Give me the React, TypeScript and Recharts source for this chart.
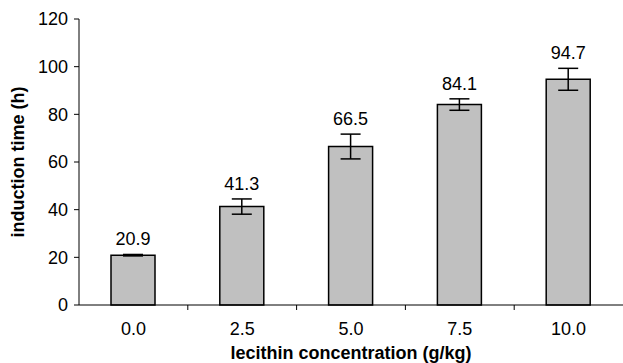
import { Bar, BarChart, ErrorBar, LabelList, XAxis, YAxis } from "recharts";

const concentrations = ["0.0", "2.5", "5.0", "7.5", "10.0"];
const inductionTime = [20.9, 41.3, 66.5, 84.1, 94.7];
const errors = [0.3, 3.2, 5.2, 2.4, 4.6];
const yTicks = [0, 20, 40, 60, 80, 100, 120];

const data = concentrations.map((c, i) => ({ c, time: inductionTime[i], err: errors[i] }));

const FONT = "'Liberation Sans', Arial, sans-serif";

// category axis: labels at centre, tick marks between categories
function CategoryTick(props: any) {
  const { x, y, payload, index, visibleTicksCount } = props;
  const axisY = y - 5;
  const half = payload.offset ?? 0;
  return (
    <g>
      {index < visibleTicksCount - 1 && (
        <line x1={x + half} x2={x + half} y1={axisY} y2={axisY + 5} stroke="#000" strokeWidth={1} />
      )}
      <text x={x} y={axisY + 30} textAnchor="middle" fontSize={18} fontFamily={FONT} fill="#000">
        {payload.value}
      </text>
    </g>
  );
}

// value label above the error bar
function ValueLabel(props: any) {
  const { x, y, width, height, value, index } = props;
  const v = Number(value);
  const perUnit = v > 0 ? Number(height) / v : 0;
  const errPx = errors[index] * perUnit;
  return (
    <text
      x={Number(x) + Number(width) / 2}
      y={Number(y) - errPx - 9}
      textAnchor="middle"
      fontSize={18}
      fontFamily={FONT}
      fill="#000"
    >
      {v.toFixed(1)}
    </text>
  );
}

export default function App() {
  return (
    <div style={{ position: "absolute", left: 0, top: 0, background: "#fff" }}>
      <BarChart width={623} height={363} data={data} margin={{ top: 19, right: 0, bottom: 0, left: 0 }}>
        <XAxis
          dataKey="c"
          height={58}
          axisLine={{ stroke: "#000", strokeWidth: 1 }}
          tickLine={false}
          tickSize={5}
          tickMargin={0}
          interval={0}
          tick={<CategoryTick />}
          label={{
            content: () => (
              <text x={351} y={359} textAnchor="middle" fontSize={18} fontWeight="bold" fontFamily={FONT} fill="#000">
                lecithin concentration (g/kg)
              </text>
            ),
          }}
        />
        <YAxis
          width={79}
          domain={[0, 120]}
          ticks={yTicks}
          interval={0}
          axisLine={{ stroke: "#000", strokeWidth: 1 }}
          tickLine={{ stroke: "#000", strokeWidth: 1 }}
          tickSize={5}
          tickMargin={6}
          tick={{ fontSize: 18, fontFamily: FONT, fill: "#000" }}
          label={{
            content: () => (
              <text
                x={24}
                y={162}
                transform="rotate(-90 24 162)"
                textAnchor="middle"
                fontSize={18}
                fontWeight="bold"
                fontFamily={FONT}
                fill="#000"
              >
                induction time (h)
              </text>
            ),
          }}
        />
        <Bar dataKey="time" barSize={44} fill="#c0c0c0" stroke="#000" strokeWidth={1.5} isAnimationActive={false}>
          <ErrorBar dataKey="err" width={10} stroke="#000" strokeWidth={1.5} direction="y" />
          <LabelList dataKey="time" content={<ValueLabel />} />
        </Bar>
      </BarChart>
    </div>
  );
}
